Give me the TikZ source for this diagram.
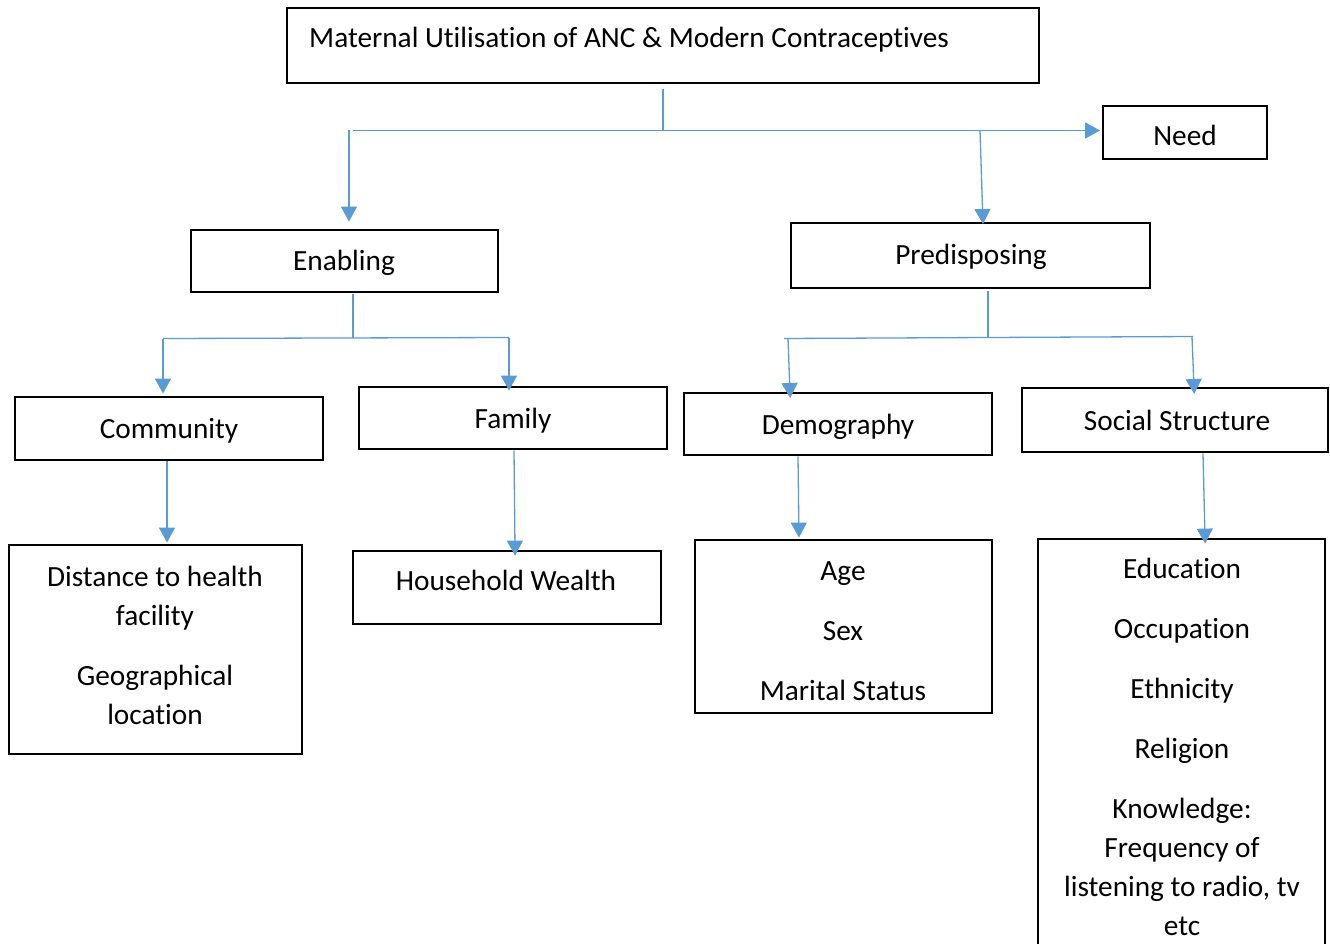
\documentclass[tikz,border=0pt]{standalone}
\usepackage{fontspec}
\setmainfont{Carlito}[Ligatures=NoCommon]
\usetikzlibrary{arrows.meta}
\definecolor{conncol}{HTML}{5B9BD5}
\begin{document}
\begin{tikzpicture}[x=1pt,y=-1pt,
  box/.style={draw=black, line width=2.8pt, inner sep=0pt, fill=white},
  txt/.style={inner sep=0pt, align=center, font=\fontsize{29.3}{39}\selectfont, anchor=base},
  conn/.style={draw=conncol, line width=1.3pt},
  arr/.style={conn, -{Triangle[width=16pt,length=15pt]}}]
\useasboundingbox (0,0) rectangle (1330,944);
\clip (0,0) rectangle (1330,944);
% boxes
\node[box, minimum width=752pt, minimum height=75pt] (top) at (663,45.5) {};
\node[box, minimum width=164pt, minimum height=53pt] (need) at (1185,132.5) {};
\node[box, minimum width=307pt, minimum height=62pt] (enab) at (344.5,261) {};
\node[box, minimum width=359pt, minimum height=65pt] (pred) at (970.5,255.5) {};
\node[box, minimum width=308pt, minimum height=63pt] (comm) at (169,428.5) {};
\node[box, minimum width=308pt, minimum height=62pt] (fam) at (513,418) {};
\node[box, minimum width=308pt, minimum height=62pt] (demo) at (838,424) {};
\node[box, minimum width=306pt, minimum height=64pt] (soc) at (1175,420) {};
\node[box, minimum width=293pt, minimum height=209pt] (dist) at (155.5,649.5) {};
\node[box, minimum width=308pt, minimum height=73pt] (hh) at (507,587.5) {};
\node[box, minimum width=297pt, minimum height=173pt] (age) at (843.5,626.5) {};
\node[box, minimum width=287pt, minimum height=431pt] (edu) at (1181.5,754.5) {};
% texts
\node[txt, anchor=base west] (top-t) at (309,48) {Maternal Utilisation of ANC \& Modern Contraceptives};
\node[txt] (need-t) at (1185,146) {Need};
\node[txt] (enab-t) at (344,270) {Enabling};
\node[txt] (pred-t) at (971,264) {Predisposing};
\node[txt] (comm-t) at (169,438) {Community};
\node[txt] (fam-t) at (513,428) {Family};
\node[txt] (demo-t) at (838,434) {Demography};
\node[txt] (soc-t) at (1177,430) {Social Structure};
\node[txt] (hh-t) at (506,590) {Household Wealth};
\node[txt] (dist-t) at (155,724) {Distance to health\\facility\\[21pt]Geographical\\location};
\node[txt] (age-t) at (843,700) {Age\\[21pt]Sex\\[21pt]Marital Status};
\node[txt] (edu-t) at (1182,935) {Education\\[21pt]Occupation\\[21pt]Ethnicity\\[21pt]Religion\\[21pt]Knowledge:\\Frequency of\\listening to radio, tv\\etc};
% level 1 connectors
\coordinate (j0) at (663,130);
\coordinate (hL) at (353,130.5);
\coordinate (jL) at (349,130.5);
\coordinate (jR) at (980,130.5);
\coordinate (pR) at (983,224);
\draw[conn] ([yshift=-5pt]top.south) -- (j0);
\draw[arr, shorten >=1.5pt] (hL) -- (hL -| need.west);
\draw[arr, shorten >=7pt] (jL) -- (jL |- enab.north);
\draw[arr] (jR) -- (pR);
% enabling
\coordinate (e0) at (353,338);
\coordinate (eL) at (163,338.5);
\coordinate (eR) at (509,337.5);
\draw[conn] ([yshift=-1pt]enab.south -| e0) -- (e0);
\draw[conn] (eL) -- (eR);
\draw[arr, shorten >=2pt] (eL) -- (eL |- comm.north);
\draw[arr, shorten >=-5pt] (eR) -- (eR |- fam.north);
% predisposing
\coordinate (p0) at (988,337.5);
\coordinate (pL) at (784,338.5);
\coordinate (pRR) at (1193,336.5);
\coordinate (dL) at (788,338.5);
\coordinate (dLt) at (790,393);
\coordinate (dR) at (1192,336.5);
\coordinate (dRt) at (1194,388);
\draw[conn] ([yshift=-2pt]pred.south -| p0) -- (p0);
\draw[conn] (pL) -- (pRR);
\draw[arr, shorten >=-5pt] (dL) -- (dLt);
\draw[arr, shorten >=-6pt] (dR) -- (dRt);
% lower level
\draw[arr, shorten >=1pt] ([xshift=-2pt]comm.south) -- ([xshift=11.5pt]dist.north);
\draw[arr, shorten >=-6pt] ([xshift=1pt]fam.south) -- ([xshift=8pt]hh.north);
\draw[arr, shorten >=1pt] ([xshift=-40pt]demo.south) -- ([xshift=-44.5pt]age.north);
\draw[arr, shorten >=-6pt] ([xshift=28pt]soc.south) -- ([xshift=23.5pt]edu.north);
\end{tikzpicture}
\end{document}
